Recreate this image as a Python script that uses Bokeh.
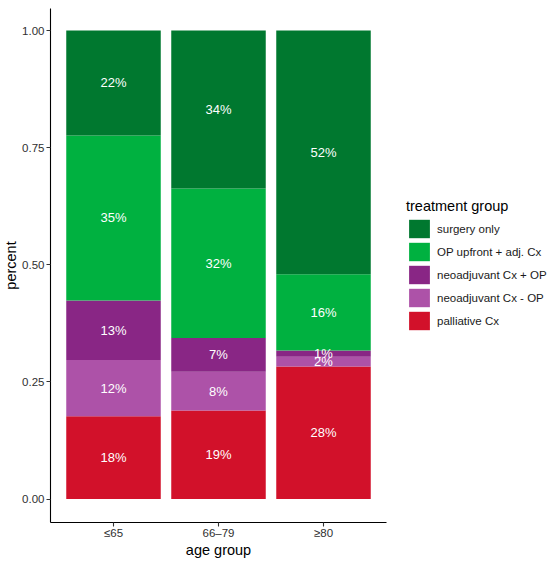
from bokeh.plotting import figure
from bokeh.models import (ColumnDataSource, FactorRange, Range1d, FixedTicker,
                          Legend, LegendItem, NumeralTickFormatter)
from bokeh.core.properties import value
from bokeh.embed import file_html
from bokeh.resources import INLINE

# ---- data ----
age_groups = ["≤65", "66–79", "≥80"]
surgery_only = [0.224, 0.337, 0.520]
op_upfront = [0.352, 0.319, 0.163]
neo_plus_op = [0.127, 0.072, 0.013]
neo_minus_op = [0.120, 0.083, 0.021]
palliative = [0.177, 0.189, 0.283]

# stack order: bottom -> top
stack_keys = ["palliative", "neo_minus", "neo_plus", "op_upfront", "surgery"]
stack_labels = ["palliative Cx", "neoadjuvant Cx - OP", "neoadjuvant Cx + OP",
                "OP upfront + adj. Cx", "surgery only"]
stack_colors = ["#D2112A", "#AD52A8", "#892685", "#00B140", "#00782F"]
y_ticks = [0.0, 0.25, 0.5, 0.75, 1.0]

series = {
    "palliative": palliative,
    "neo_minus": neo_minus_op,
    "neo_plus": neo_plus_op,
    "op_upfront": op_upfront,
    "surgery": surgery_only,
}

FONT = "Liberation Sans"

src = ColumnDataSource(dict(x=age_groups, **series))

p = figure(
    x_range=FactorRange(*age_groups, range_padding=0.1, range_padding_units="absolute"),
    y_range=Range1d(-0.05, 1.047),
    frame_width=336, frame_height=514,
    output_backend="svg", toolbar_location=None,
    min_border_top=8, min_border_left=40, min_border_right=162, min_border_bottom=30,
)

renderers = p.vbar_stack(stack_keys, x="x", width=0.9, source=src,
                         color=stack_colors, line_color=None)

# labels at segment midpoints
lx, ly, lt = [], [], []
for i, g in enumerate(age_groups):
    base = 0.0
    for k in stack_keys:
        v = series[k][i]
        lx.append(g)
        ly.append(base + v / 2)
        lt.append(f"{round(v * 100)}%")
        base += v
p.text(x=lx, y=ly, text=lt, text_color="white", text_align="center",
       text_baseline="middle", text_font=value(FONT), text_font_size="13px")

# axes styling
p.xgrid.visible = False
p.ygrid.visible = False
p.outline_line_color = None
p.background_fill_color = "white"

p.yaxis.ticker = FixedTicker(ticks=y_ticks)
p.yaxis.formatter = NumeralTickFormatter(format="0.00")
for ax in (p.xaxis[0], p.yaxis[0]):
    ax.axis_line_color = "black"
    ax.axis_line_width = 1.1
    ax.major_tick_line_color = "#333333"
    ax.major_tick_line_width = 1.1
    ax.major_tick_out = 4
    ax.major_tick_in = 0
    ax.minor_tick_line_color = None
    ax.major_label_text_font = FONT
    ax.major_label_text_font_size = "11.5px"
    ax.major_label_text_color = "#303030"
    ax.major_label_standoff = 2
    ax.axis_label_text_font = FONT
    ax.axis_label_text_font_size = "14.5px"
    ax.axis_label_text_font_style = "normal"
    ax.axis_label_text_color = "black"
    ax.axis_label_standoff = 1
p.xaxis.axis_label = "age group"
p.yaxis.axis_label = "percent"
p.yaxis.axis_label_standoff = 0
p.xaxis.major_label_standoff = 0
p.xaxis.axis_label_standoff = 0
p.xaxis.major_label_orientation = "horizontal"

items = [LegendItem(label=stack_labels[j], renderers=[renderers[j]])
         for j in reversed(range(len(stack_keys)))]
legend = Legend(items=items, title="treatment group", location=(20, 190),
                orientation="vertical")
legend.title_text_font = FONT
legend.title_text_font_size = "14.5px"
legend.title_text_font_style = "normal"
legend.title_text_color = "black"
legend.title_standoff = 3
legend.label_text_font = FONT
legend.label_text_font_size = "11.5px"
legend.label_text_color = "#1a1a1a"
legend.glyph_width = 26
legend.glyph_height = 23
legend.label_height = 23
legend.label_standoff = 5
legend.spacing = 0
legend.padding = 0
legend.margin = 0
legend.border_line_color = None
legend.background_fill_alpha = 0
p.add_layout(legend, "right")

open("out.html", "w").write(file_html(p, INLINE))
